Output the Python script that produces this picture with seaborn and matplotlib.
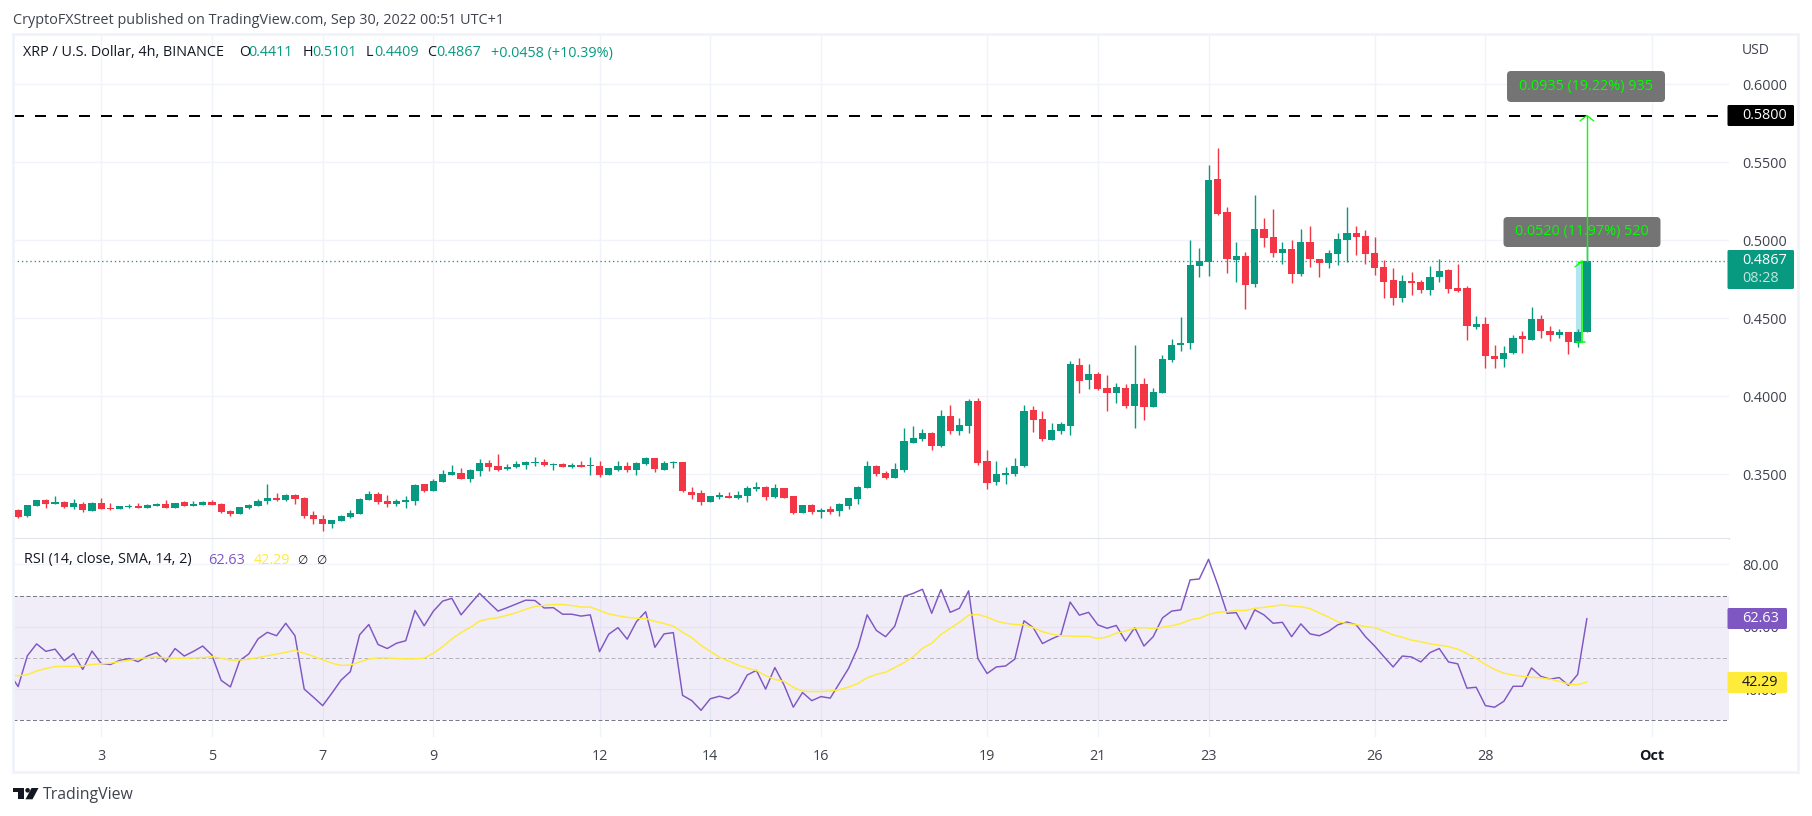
import numpy as np
import pandas as pd
import matplotlib
matplotlib.use("Agg")
import matplotlib.pyplot as plt
from matplotlib.patches import FancyBboxPatch, Rectangle, Polygon, Circle
import seaborn as sns

sns.set_theme(style="white")
FONT = "Open Sans"
plt.rcParams["font.family"] = [FONT, "DejaVu Sans"]

opens = [
 .3271,.3233,.3297,.3335,.3310,.3323,.3291,.3310,.3265,.3316,
 .3284,.3278,.3291,.3297,.3284,.3297,.3310,.3284,.3323,.3297,
 .3303,.3323,.3310,.3265,.3246,.3284,.3297,.3329,.3348,.3335,
 .3368,.3348,.3239,.3214,.3182,.3201,.3226,.3246,.3335,.3374,
 .3329,.3310,.3323,.3329,.3438,.3393,.3451,.3496,.3509,.3470,
 .3521,.3573,.3553,.3534,.3547,.3560,.3573,.3579,.3560,.3566,
 .3547,.3560,.3553,.3553,.3496,.3528,.3553,.3528,.3566,.3605,
 .3528,.3573,.3579,.3387,.3380,.3323,.3355,.3361,.3348,.3361,
 .3406,.3419,.3355,.3412,.3361,.3252,.3303,.3259,.3278,.3265,
 .3297,.3342,.3412,.3553,.3509,.3476,.3528,.3701,.3727,.3765,
 .3682,.3874,.3778,.3810,.3970,.3585,.3451,.3496,.3502,.3553,
 .3912,.3855,.3720,.3778,.3810,.4201,.4105,.4143,.4053,.4021,
 .4053,.3938,.4079,.3932,.4021,.4233,.4329,.4342,.4835,.4861,
 .5393,.5182,.4874,.4900,.4720,.5073,.5021,.4919,.4944,.4784,
 .4989,.4880,.4855,.4912,.5002,.5047,.5028,.4919,.4829,.4746,
 .4630,.4739,.4733,.4682,.4765,.4810,.4694,.4694,.4444,.4464,
 .4259,.4239,.4278,.4387,.4361,.4496,.4419,.4393,.4412,.4342,.4411]
highs = [
 .3278,.3303,.3335,.3342,.3361,.3329,.3342,.3323,.3323,.3348,
 .3316,.3297,.3310,.3316,.3310,.3316,.3335,.3316,.3329,.3329,
 .3329,.3335,.3316,.3271,.3291,.3310,.3342,.3438,.3380,.3374,
 .3374,.3355,.3265,.3239,.3207,.3239,.3271,.3348,.3393,.3387,
 .3368,.3342,.3361,.3438,.3438,.3470,.3528,.3560,.3541,.3534,
 .3598,.3592,.3630,.3566,.3585,.3585,.3611,.3598,.3573,.3573,
 .3573,.3585,.3611,.3585,.3541,.3585,.3579,.3579,.3611,.3605,
 .3585,.3585,.3579,.3419,.3400,.3361,.3387,.3387,.3393,.3425,
 .3451,.3425,.3438,.3412,.3361,.3303,.3310,.3284,.3297,.3316,
 .3348,.3425,.3585,.3560,.3521,.3573,.3797,.3810,.3791,.3771,
 .3912,.3944,.3861,.3983,.3989,.3656,.3585,.3547,.3605,.3944,
 .3938,.3906,.3829,.3835,.4227,.4246,.4207,.4156,.4137,.4085,
 .4079,.4329,.4118,.4053,.4265,.4368,.4509,.5002,.4951,.5483,
 .5592,.5214,.4989,.4925,.5291,.5143,.5201,.4989,.5002,.5073,
 .5092,.4880,.4938,.5047,.5214,.5092,.5066,.5021,.4874,.4823,
 .4778,.4797,.4746,.4835,.4880,.4816,.4848,.4707,.4515,.4509,
 .4329,.4323,.4393,.4419,.4573,.4521,.4451,.4432,.4412,.4432,.5101]
lows = [
 .3220,.3226,.3297,.3284,.3310,.3284,.3278,.3259,.3265,.3278,
 .3271,.3278,.3284,.3284,.3284,.3297,.3284,.3284,.3297,.3297,
 .3303,.3303,.3252,.3233,.3246,.3278,.3297,.3310,.3329,.3329,
 .3310,.3220,.3182,.3137,.3156,.3201,.3220,.3246,.3335,.3310,
 .3291,.3297,.3284,.3303,.3387,.3393,.3451,.3496,.3470,.3451,
 .3489,.3521,.3521,.3528,.3541,.3534,.3553,.3553,.3528,.3547,
 .3541,.3547,.3496,.3483,.3496,.3521,.3515,.3496,.3560,.3515,
 .3528,.3541,.3387,.3342,.3303,.3323,.3342,.3348,.3342,.3323,
 .3393,.3335,.3348,.3348,.3246,.3252,.3246,.3220,.3246,.3233,
 .3278,.3310,.3412,.3489,.3470,.3476,.3515,.3701,.3714,.3656,
 .3675,.3759,.3752,.3765,.3560,.3406,.3432,.3438,.3489,.3547,
 .3771,.3714,.3720,.3759,.3752,.4021,.4047,.4041,.3906,.3957,
 .3925,.3797,.3848,.3932,.4021,.4220,.4291,.4303,.4765,.4771,
 .5162,.4791,.4733,.4560,.4701,.4957,.4893,.4848,.4726,.4771,
 .4829,.4765,.4823,.4842,.4861,.4906,.4848,.4778,.4630,.4585,
 .4605,.4650,.4662,.4650,.4733,.4662,.4669,.4361,.4432,.4182,
 .4182,.4188,.4271,.4278,.4361,.4374,.4355,.4374,.4271,.4316,.4409]
closes = [
 .3226,.3303,.3335,.3310,.3323,.3291,.3316,.3271,.3316,.3278,
 .3278,.3297,.3297,.3284,.3303,.3310,.3284,.3316,.3297,.3310,
 .3323,.3303,.3259,.3246,.3291,.3303,.3329,.3348,.3335,.3368,
 .3342,.3233,.3214,.3182,.3207,.3233,.3252,.3342,.3374,.3323,
 .3310,.3329,.3335,.3432,.3393,.3457,.3502,.3515,.3470,.3528,
 .3573,.3547,.3528,.3547,.3566,.3579,.3579,.3560,.3566,.3547,
 .3560,.3547,.3560,.3496,.3541,.3553,.3528,.3573,.3605,.3534,
 .3573,.3579,.3393,.3368,.3323,.3361,.3368,.3348,.3368,.3412,
 .3419,.3355,.3412,.3348,.3252,.3303,.3259,.3271,.3259,.3310,
 .3348,.3419,.3553,.3502,.3476,.3534,.3714,.3733,.3765,.3682,
 .3874,.3778,.3816,.3970,.3573,.3444,.3502,.3509,.3553,.3906,
 .3848,.3727,.3784,.3823,.4207,.4098,.4143,.4047,.4021,.4060,
 .3938,.4079,.3932,.4028,.4239,.4329,.4342,.4842,.4868,.5387,
 .5169,.4880,.4900,.4714,.5073,.5015,.4919,.4944,.4784,.4989,
 .4880,.4855,.4919,.5009,.5047,.5021,.4912,.4823,.4733,.4630,
 .4739,.4726,.4682,.4765,.4803,.4688,.4675,.4451,.4464,.4259,
 .4239,.4278,.4374,.4368,.4496,.4419,.4393,.4412,.4348,.4412,.4867]
rsi = [
 45.2,40.8,50.7,54.5,52.1,52.8,49.1,51.4,46.3,52.2,48.2,
 47.9,49.2,49.8,48.8,50.6,51.7,48.7,53.0,50.6,52.1,
 53.8,50.9,42.8,40.7,49.1,51.3,56.1,58.2,57.1,61.1,
 57.1,40.0,37.4,34.7,38.7,42.9,45.6,57.4,60.7,54.3,
 53.0,54.7,55.5,65.2,60.3,65.0,68.2,69.1,63.8,67.3,
 70.7,67.8,65.0,66.1,67.3,68.5,68.4,66.0,66.1,64.0,
 64.0,63.4,63.8,52.0,57.6,59.7,56.0,61.6,64.8,53.4,
 57.7,58.1,38.0,36.3,33.2,36.9,37.7,36.9,39.0,44.5,
 46.0,40.0,46.9,41.3,34.2,38.9,36.3,37.6,37.1,41.9,
 46.7,53.4,63.8,58.8,56.8,60.2,69.7,70.7,72.0,64.3,
 71.9,64.6,65.9,71.5,49.8,45.0,47.1,47.4,49.6,61.9,
 59.7,54.6,56.1,57.4,67.9,63.7,64.6,60.6,59.5,60.4,
 55.4,59.7,53.8,56.8,62.8,65.0,65.4,75.0,75.3,81.6,
 73.4,64.3,64.5,59.2,65.4,63.8,61.1,61.4,56.8,60.9,
 57.7,57.1,58.5,60.6,61.5,60.6,56.8,53.8,50.4,47.1,
 50.6,50.3,48.7,51.7,53.0,48.7,48.1,40.3,40.6,34.7,
 34.2,36.1,40.9,40.9,46.8,44.1,43.2,43.7,41.2,44.7,62.63]
rsi_ma = [
 44.5,44.3,44.6,45.8,46.6,47.2,47.3,47.3,47.4,47.9,48.1,
 48.3,48.8,49.2,49.7,50.1,50.3,50.0,49.9,49.9,50.0,
 50.1,50.4,49.9,49.3,49.3,49.6,50.1,50.7,51.2,51.8,
 52.4,51.5,50.5,49.4,48.3,47.6,47.7,48.7,49.6,50.0,
 50.0,49.8,49.7,49.7,49.9,51.5,53.6,56.1,58.1,59.8,
 61.8,62.5,62.9,63.7,64.5,65.6,66.5,66.8,67.1,67.1,
 66.8,66.3,66.3,65.2,64.1,63.5,63.0,62.7,62.6,61.7,
 61.0,60.2,58.2,56.5,54.0,52.1,50.2,49.0,47.7,46.7,
 46.0,44.3,43.1,42.5,40.6,39.3,39.2,39.2,39.4,39.8,
 40.7,41.8,43.6,44.7,45.4,46.9,48.5,50.4,53.1,54.7,
 57.5,59.5,61.4,63.7,63.9,63.1,61.8,61.1,60.7,60.6,
 59.7,58.4,57.6,57.1,57.0,56.9,56.9,56.2,56.7,57.9,
 58.6,59.5,59.7,59.4,59.8,60.3,61.0,62.2,62.7,63.9,
 64.6,64.8,65.2,65.2,65.9,66.2,66.6,67.0,66.6,66.4,
 65.8,64.4,63.1,61.6,61.0,60.7,60.0,59.7,58.6,57.4,
 56.6,55.7,55.2,54.5,54.1,53.6,52.8,51.4,49.8,47.9,
 46.3,45.1,44.5,44.1,43.8,43.6,43.2,42.5,41.6,41.4,42.29]

day_labels = ["3","5","7","9","12","14","16","19","21","23","26","28","Oct"]
day_bars = [0,12,24,36,54,66,78,96,108,120,138,150,168]
price_ticks = [0.35,0.40,0.45,0.50,0.55,0.60]
rsi_ticks = [40,60,80]
resistance = 0.58
last_price = 0.4867
measure_low_base = 0.4347
measure_bar_low = 160.5
measure_bar_up = 161.0

W, H = 1812, 816
GREEN, RED = "#089981", "#F23645"
PURPLE, YELLOW = "#7E57C2", "#FFEB3B"
GRID = "#F0F3FA"
TXT = "#131722"
AX = "#3F434E"
NEON = "#00FF00"
FS = 10.4

L, R = 13, 1729
PY0, PY1, RY1 = 35, 539, 737
X0, DX = 101.2, 9.228

def rect(l, t, r, b):
    return [l/W, 1-b/H, (r-l)/W, (b-t)/H]

fig = plt.figure(figsize=(W/100, H/100), dpi=100, facecolor="white")
ax = fig.add_axes(rect(L, PY0, R, PY1))
ar = fig.add_axes(rect(L, PY1, R, RY1), sharex=ax)
ov = fig.add_axes([0, 0, 1, 1], zorder=10)
ov.set_xlim(0, W); ov.set_ylim(H, 0); ov.axis("off"); ov.patch.set_alpha(0)

ax.set_xlim((L-X0)/DX, (R-X0)/DX)
ax.set_ylim(0.55-(PY1-162.3)/1560, 0.55+(162.3-PY0)/1560)
ar.set_ylim(30-(RY1-720.3)/3.12, 30+(720.3-PY1)/3.12)

# candles
df = pd.DataFrame({"bar": np.arange(-9, 162), "o": opens, "h": highs, "l": lows, "c": closes})
df["col"] = np.where(df.c >= df.o, GREEN, RED)
ax.vlines(df.bar, df.l, df.h, colors=df.col, lw=1.0, zorder=3)
ax.bar(df.bar, (df.c-df.o).abs(), bottom=df[["o", "c"]].min(axis=1), width=0.78,
       color=df.col, linewidth=0, zorder=4)

# RSI
rd = pd.DataFrame({"bar": np.arange(-10, 162), "rsi": rsi, "ma": rsi_ma})
ar.axhspan(30, 70, color=PURPLE, alpha=0.1, lw=0, zorder=1)
sns.lineplot(data=rd, x="bar", y="rsi", ax=ar, color=PURPLE, lw=1.05, zorder=4, errorbar=None)
sns.lineplot(data=rd, x="bar", y="ma", ax=ar, color=YELLOW, lw=1.05, zorder=5, errorbar=None)
for lv, a in ((70, 1), (50, .5), (30, 1)):
    ar.axhline(lv, color="#787B86", alpha=a, lw=0.72, ls=(0, (4, 2.5)), zorder=3)
ar.set_xlabel(""); ar.set_ylabel("")

# axes cosmetics
for a in (ax, ar):
    a.set_facecolor("white")
    a.set_axisbelow(True)
    a.grid(True, color=GRID, lw=1.0)
    for s in a.spines.values():
        s.set_visible(False)
    a.yaxis.tick_right()
    a.tick_params(axis="y", length=0, pad=9.4, labelsize=FS, labelcolor=AX, right=False)
ax.spines["bottom"].set_visible(True)
ax.spines["bottom"].set_color("#E0E3EB")
ax.spines["bottom"].set_linewidth(1.44)
ax.set_yticks(price_ticks, [f"{v:.4f}" for v in price_ticks])
ar.set_yticks(rsi_ticks, [f"{v:.2f}" for v in rsi_ticks])
ar.set_xticks(day_bars, day_labels)
ar.tick_params(axis="x", length=0, pad=9.0, labelsize=FS, labelcolor=AX)
ax.tick_params(axis="x", length=0, labelbottom=False, bottom=False)
for t in ar.get_xticklabels():
    if t.get_text() == "Oct":
        t.set_fontweight("bold"); t.set_color(TXT)

# levels
ax.axhline(resistance, color="black", lw=1.44, ls=(0, (5.5, 5.5)), zorder=6)
ax.axhline(last_price, color="#2E8F80", lw=0.95, ls=(0, (1, 2.2)), zorder=2)

# measure tools
ax.fill_between([159.85, measure_bar_low], measure_low_base, last_price, color="#A6E3EE", alpha=0.85, lw=0, zorder=2.5)
ax.plot([measure_bar_low, measure_bar_low], [measure_low_base, last_price], color=NEON, lw=1.1, zorder=8)
ax.plot([159.85, 160.8], [measure_low_base, measure_low_base], color=NEON, lw=1.1, zorder=8)
ax.plot([159.7, 160.5], [last_price-0.0038, last_price], color=NEON, lw=0.9, zorder=8)
ax.plot([160.05, 160.5], [last_price-0.0003, last_price-0.0003], color=NEON, lw=0.9, zorder=8)
ax.plot([measure_bar_up, measure_bar_up], [last_price, resistance], color=NEON, lw=1.0, zorder=8)
ax.plot([160.25, 161.0, 161.75], [resistance-0.0035, resistance, resistance-0.0035], color=NEON, lw=0.9, zorder=8)

def gray_box(l, t, r, b, label):
    ax.add_patch(FancyBboxPatch((l+4, t+4), r-l-8, b-t-8, boxstyle="round,pad=4,rounding_size=4",
                                fc="#747474", ec="none", lw=0, transform=ov.transData, clip_on=False, zorder=7))
    ax.text((l+r)/2, (t+b)/2, label, color=NEON, fontsize=10.4, ha="center", va="center",
            transform=ov.transData, clip_on=False, zorder=7.5)
gray_box(1507, 71, 1665, 102, "0.0935 (19.22%) 935")
gray_box(1503.5, 217, 1660.5, 247, "0.0520 (11.97%) 520")

# frame
ov.add_patch(Rectangle((13, 34), 1785, 738, fill=False, ec="#F0F3FA", lw=2.0))

# badges
def badge(l, t, r, b, col):
    ov.add_patch(FancyBboxPatch((l, t+1.5), r-l-1.5, b-t-3, boxstyle="round,pad=1.5,rounding_size=1.5",
                                fc=col, ec="none", lw=0))
badge(1729, 105, 1794, 126, "black")
badge(1729, 250, 1794, 289, GREEN)
badge(1729, 608, 1787, 629, PURPLE)
badge(1729, 672, 1787, 693, YELLOW)
ov.text(1742, 115.5, "0.5800", color="white", fontsize=FS, va="center")
ov.text(1742, 260, "0.4867", color="white", fontsize=FS, va="center")
ov.text(1742, 279, "08:28", color="#C4E6DF", fontsize=FS, va="center")
ov.text(1742, 618.5, "62.63", color="white", fontsize=FS, va="center")
ov.text(1742, 682.5, "42.29", color=TXT, fontsize=FS, va="center")
ov.text(1741.5, 51, "USD", color=AX, fontsize=10, va="center")

# header texts
ov.text(13, 20, "CryptoFXStreet published on TradingView.com, Sep 30, 2022 00:51 UTC+1",
        color=AX, fontsize=FS, va="center")
ov.text(23, 53, "XRP / U.S. Dollar, 4h, BINANCE", color=TXT, fontsize=FS, va="center")
for x, s, c in ((239, "O", TXT), (248.5, "0.4411", GREEN), (302.5, "H", TXT), (312.5, "0.5101", GREEN),
                (366, "L", TXT), (374, "0.4409", GREEN), (427.5, "C", TXT), (436.5, "0.4867", GREEN),
                (491, "+0.0458 (+10.39%)", GREEN)):
    ov.text(x, 53, s, color=c, fontsize=FS, va="center")
ov.text(23.5, 560, "RSI (14, close, SMA, 14, 2)", color=TXT, fontsize=FS, va="center")
ov.text(208.5, 560, "62.63", color=PURPLE, fontsize=FS, va="center")
ov.text(254, 560, "42.29", color=YELLOW, fontsize=FS, va="center")
ov.text(297.5, 560, "\u2205", color=TXT, fontsize=8.5, va="center", family=["DejaVu Sans"])
ov.text(316.5, 560, "\u2205", color=TXT, fontsize=8.5, va="center", family=["DejaVu Sans"])

# logo
ov.add_patch(Rectangle((13.3, 788), 11, 4, fc=TXT, ec="none"))
ov.add_patch(Rectangle((18.2, 788), 6.1, 11.3, fc=TXT, ec="none"))
ov.add_patch(Circle((27.6, 790.3), 2.3, fc=TXT, ec="none"))
ov.add_patch(Polygon([(31.5, 788), (38.5, 788), (32.5, 799.3), (25.5, 799.3)], fc=TXT, ec="none"))
ov.text(42.5, 795, "TradingView", color=AX, fontsize=11.4, va="center")

fig.savefig("out.png", dpi=100)
